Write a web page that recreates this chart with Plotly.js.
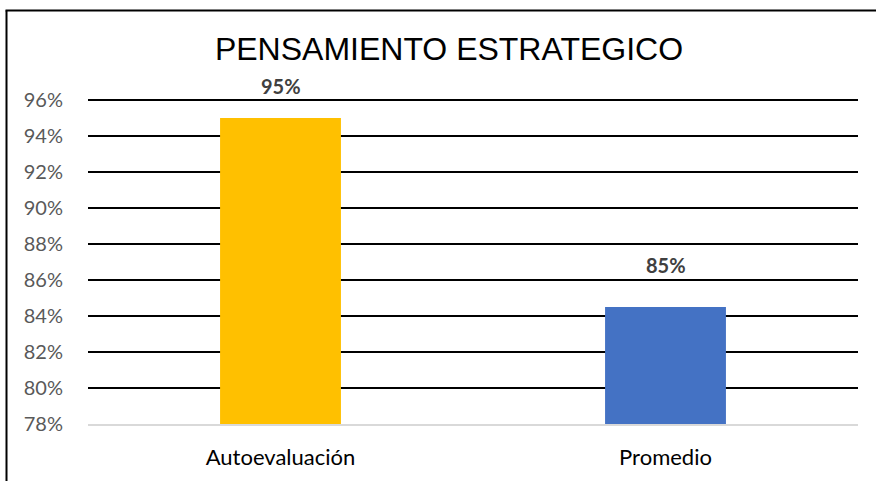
<!DOCTYPE html>
<html><head><meta charset="utf-8">
<script src="https://cdn.plot.ly/plotly-3.0.1.min.js"></script>
<style>html,body{margin:0;padding:0;background:#fff;}#chart{width:876px;height:481px;}</style>
</head><body><div id="chart"></div>
<script>
const categories = ['Autoevaluación', 'Promedio'];
const values = [0.95, 0.845];
const barColors = ['#FFC000', '#4472C4'];
const labelTexts = ['95%', '85%'];
const titleText = 'PENSAMIENTO ESTRATEGICO';

const L = 88, R = 18, T = 99, B = 57, W = 876, H = 481;
const pw = W - L - R, ph = H - T - B;
const px = x => (x - L) / pw;
const py = y => (H - B - y) / ph;
const labelShift = [32, 42];

const data = [{
  type: 'bar', x: categories, y: values,
  marker: {color: barColors, line: {width: 0}},
  hoverinfo: 'none'
}];

const annotations = categories.map((c, i) => ({
  x: c, y: values[i], xref: 'x', yref: 'y', text: '<b>' + labelTexts[i] + '</b>',
  showarrow: false, yanchor: 'middle', yshift: labelShift[i],
  font: {family: 'Lato, sans-serif', size: 20, color: '#404040'}
}));

const layout = {
  width: W, height: H,
  margin: {l: L, r: R, t: T, b: B},
  paper_bgcolor: '#fff', plot_bgcolor: '#fff',
  showlegend: false, bargap: 0.686,
  title: {text: titleText, xref: 'container', yref: 'container', x: 449 / W, y: 1 - 49 / H,
    xanchor: 'center', yanchor: 'middle',
    font: {family: 'Liberation Sans, Arial, sans-serif', size: 32, color: '#000'}},
  xaxis: {showgrid: false, zeroline: false, showline: true, linecolor: '#d9d9d9', linewidth: 1.5,
    ticks: 'outside', ticklen: 13, tickcolor: 'rgba(0,0,0,0)',
    tickfont: {family: 'Lato, sans-serif', size: 22, color: '#000'}, fixedrange: true},
  yaxis: {range: [0.78, 0.9606], dtick: 0.02, tick0: 0.78, tickformat: '.0%',
    showgrid: true, gridcolor: '#000', gridwidth: 2, zeroline: false, showline: false,
    ticks: 'outside', ticklen: 20, tickcolor: 'rgba(0,0,0,0)',
    tickfont: {family: 'Lato, sans-serif', size: 20, color: '#595959'}, fixedrange: true},
  annotations: annotations,
  shapes: [
    {type: 'line', xref: 'paper', yref: 'paper', x0: px(6.5), x1: px(6.5), y0: py(10.5), y1: py(500), line: {color: '#000', width: 2}},
    {type: 'line', xref: 'paper', yref: 'paper', x0: px(5.5), x1: px(900), y0: py(10.5), y1: py(10.5), line: {color: '#000', width: 2}}
  ]
};

Plotly.newPlot('chart', data, layout, {displayModeBar: false, staticPlot: true});
</script></body></html>
